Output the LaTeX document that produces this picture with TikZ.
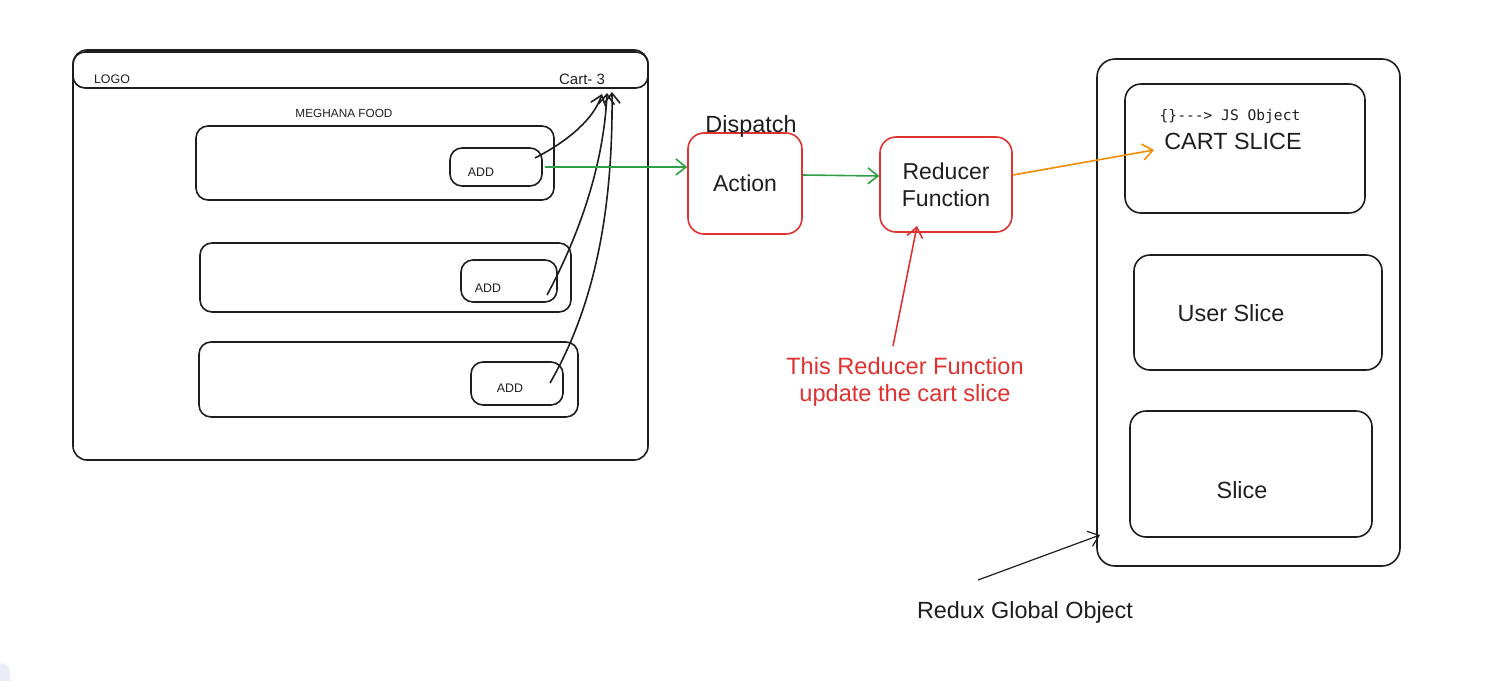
\documentclass[tikz,border=0pt]{standalone}
\usepackage{fontspec}
\setmainfont{Liberation Sans}
\newfontfamily\codefont{DejaVu Sans Mono}
\usetikzlibrary{arrows.meta}
\definecolor{ink}{HTML}{1E1E1E}
\definecolor{xred}{HTML}{E03131}
\definecolor{xgreen}{HTML}{2F9E44}
\definecolor{xorange}{HTML}{F08C00}
\definecolor{lav}{HTML}{ECECF6}
\tikzset{
  box/.style={draw=ink, line width=0.8pt, rounded corners=6pt, inner sep=0pt},
  redbox/.style={draw=xred, line width=0.8pt, rounded corners=8pt, inner sep=0pt, text=ink, font=\fontsize{11.5}{13.5}\selectfont, align=center},
  lbl/.style={text=ink, inner sep=0pt},
  tiny/.style={lbl, font=\fontsize{6.2}{7}\selectfont},
  big/.style={lbl, font=\fontsize{11.7}{14}\selectfont},
  arr/.style={line width=0.8pt, -{Straight Barb[length=5pt,width=8pt]}},
}
\begin{document}
\begin{tikzpicture}[x=0.5pt,y=-0.5pt]
\useasboundingbox (0,0) rectangle (1507,680);
\fill[lav, rounded corners=5pt] (-10,663) rectangle (10,700);
% browser frame
\node[box, minimum width=287.5pt, minimum height=205pt, rounded corners=7pt] (frame) at (360.5,255) {};
\node[box, minimum width=287.5pt, minimum height=18pt, rounded corners=6pt] (bar) at (360.5,70) {};
\node[tiny] (logo) at (112,79) {LOGO};
\node[tiny, font=\fontsize{7.5}{8}\selectfont] (cart) at (582,79) {Cart- 3};
\node[tiny, font=\fontsize{5.9}{7}\selectfont] (title) at (344,113) {MEGHANA FOOD};
% cards
\node[box, minimum width=179pt, minimum height=37pt] (card1) at (375,163) {};
\node[box, minimum width=46pt, minimum height=19pt] (add1) at (496,167) {};
\node[tiny] (addt1) at (481,172) {ADD};
\node[box, minimum width=185.5pt, minimum height=34.5pt] (card2) at (385.5,277.5) {};
\node[box, minimum width=48pt, minimum height=21pt] (add2) at (509,281) {};
\node[tiny] (addt2) at (488,288) {ADD};
\node[box, minimum width=189.5pt, minimum height=37.5pt] (card3) at (388.5,379.5) {};
\node[box, minimum width=46pt, minimum height=21.5pt] (add3) at (517,383.5) {};
\node[tiny] (addt3) at (510,388) {ADD};
% arrows to cart
\coordinate (s1) at (535,158);
\coordinate (s2) at (547,295);
\coordinate (s3) at (550,383);
\coordinate (e1) at (602,94);
\coordinate (e2) at (607,93);
\coordinate (e3) at (612,92);
\draw[arr, ink] (s1) .. controls (570,140) and (594,118) .. (e1);
\draw[arr, ink] (s2) .. controls (582,230) and (604,160) .. (e2);
\draw[arr, ink] (s3) .. controls (598,300) and (613,200) .. (e3);
% action + reducer
\node[redbox, minimum width=57pt, minimum height=50.5pt] (action) at (745,183.5) {Action};
\node[big] (dispatch) at (751,126) {Dispatch};
\node[redbox, minimum width=66pt, minimum height=47.5pt] (reducer) at (946,184.5) {Reducer\\Function};
\coordinate (g0) at (545,167);
\draw[arr, xgreen] (g0) -- (action.west |- 0,167);
\draw[arr, xgreen] (action.east |- 0,175) -- (reducer.west |- 0,176);
% note
\node[lbl, text=xred, font=\fontsize{11.8}{13.5}\selectfont, align=center] (note) at (905,382) {This Reducer Function\\update the cart slice};
\coordinate (n0) at (893,346);
\draw[arr, xred] (n0) -- (917,226);
% redux store
\node[box, minimum width=151.5pt, minimum height=253.5pt, rounded corners=9pt] (store) at (1248.5,312.5) {};
\node[box, minimum width=120pt, minimum height=64.5pt, rounded corners=8pt] (cartslice) at (1245,148.5) {};
\node[lbl, font=\codefont\fontsize{7.3}{8}\selectfont] (jsobj) at (1230,116) {\{\}---> JS Object};
\node[big] (cartt) at (1233,141) {CART SLICE};
\node[box, minimum width=124pt, minimum height=57.5pt, rounded corners=8pt] (userslice) at (1258,312.5) {};
\node[big] (usert) at (1231,313) {User Slice};
\node[box, minimum width=121pt, minimum height=63pt, rounded corners=8pt] (slice) at (1251,474) {};
\node[big] (slicet) at (1242,490) {Slice};
\draw[arr, xorange] (reducer.east |- 0,175) -- (1154,150);
% redux global object
\node[big] (redux) at (1025,612) {Redux Global Object};
\coordinate (r0) at (978,580);
\draw[ink, line width=0.6pt, -{Straight Barb[length=5pt,width=8pt]}] (r0) -- (1100,535);
\end{tikzpicture}
\end{document}
